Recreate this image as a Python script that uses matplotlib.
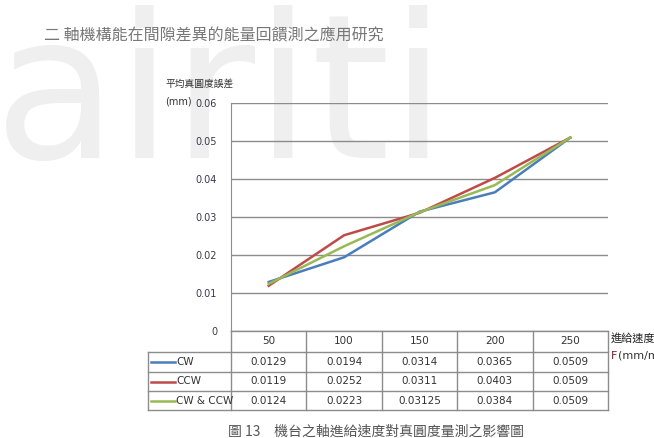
import matplotlib
matplotlib.use("Agg")
import matplotlib.pyplot as plt

plt.rcParams['font.family'] = ['Noto Sans CJK TC', 'DejaVu Sans']

# data
speeds = ['50', '100', '150', '200', '250']
series_names = ['CW', 'CCW', 'CW & CCW']
cw = [0.0129, 0.0194, 0.0314, 0.0365, 0.0509]
ccw = [0.0119, 0.0252, 0.0311, 0.0403, 0.0509]
cw_ccw = [0.0124, 0.0223, 0.03125, 0.0384, 0.0509]
cell_text = [['0.0129', '0.0194', '0.0314', '0.0365', '0.0509'],
             ['0.0119', '0.0252', '0.0311', '0.0403', '0.0509'],
             ['0.0124', '0.0223', '0.03125', '0.0384', '0.0509']]
yticks = [0, 0.01, 0.02, 0.03, 0.04, 0.05, 0.06]
colors = ['#4A7EBB', '#BE4B48', '#98B954']

W, H = 654, 438
fig = plt.figure(figsize=(W / 100, H / 100), dpi=100)

# plot area in pixels
L, R, T, B = 231, 608, 103, 331
ax = fig.add_axes([L / W, 1 - B / H, (R - L) / W, (B - T) / H])
ax.patch.set_alpha(0)

xs = range(len(speeds))
for vals, c in zip([cw, ccw, cw_ccw], colors):
    ax.plot(xs, vals, color=c, lw=1.8, zorder=3)

ax.set_xlim(-0.5, len(speeds) - 0.5)
ax.set_ylim(0, 0.06)
ax.set_yticks(yticks)
ax.set_yticklabels([f'{v:g}' if v else '0' for v in yticks], fontsize=7, color='#3a3a4a',
                   family=['DejaVu Sans'])
ax.tick_params(axis='y', length=0, pad=10)
ax.set_xticks([])
ax.grid(axis='y', color='#8c8c8c', lw=1)
for s in ['right', 'bottom', 'top']:
    ax.spines[s].set_visible(False)
ax.spines['left'].set_color('#8c8c8c')

# overlay in pixel coords for the table and texts
ov = fig.add_axes([0, 0, 1, 1], zorder=5)
ov.set_xlim(0, W)
ov.set_ylim(H, 0)
ov.axis('off')
ov.patch.set_alpha(0)

gray = '#8c8c8c'
rows_y = [331, 352, 372, 391, 410]
col_w = (R - L) / len(speeds)
leg_x = 148
ov.plot([L, R], [rows_y[0]] * 2, color=gray, lw=1)
for y in rows_y[1:]:
    ov.plot([leg_x, R], [y, y], color=gray, lw=1)
for i in range(len(speeds) + 1):
    ov.plot([L + i * col_w] * 2, [rows_y[0], rows_y[-1]], color=gray, lw=1)
ov.plot([leg_x, leg_x], [rows_y[1], rows_y[-1]], color=gray, lw=1)

tkw = dict(ha='center', va='center', fontsize=7.5, color='#333333', family=['DejaVu Sans'])
for i, s in enumerate(speeds):
    ov.text(L + (i + 0.5) * col_w, (rows_y[0] + rows_y[1]) / 2, s, **tkw)
for r, (name, row, c) in enumerate(zip(series_names, cell_text, colors)):
    yc = (rows_y[r + 1] + rows_y[r + 2]) / 2
    ov.plot([151, 175], [yc, yc], color=c, lw=1.8)
    ov.text(176, yc, name, ha='left', va='center', fontsize=7.5, color='#333333',
            family=['DejaVu Sans'])
    for i, v in enumerate(row):
        ov.text(L + (i + 0.5) * col_w, yc, v, **tkw)

# axis titles
ov.text(166, 84, '平均真圓度誤差', fontsize=7, color='#333333', va='center', ha='left')
ov.text(165, 102, '(mm)', fontsize=7, color='#333333', va='center', ha='left',
        family=['DejaVu Sans'])
ov.text(611, 338, '進給速度', fontsize=8, color='#222222', va='center', ha='left')
ov.text(611, 356, 'F', fontsize=8, color='#7a1f2b', va='center', ha='left',
        family=['DejaVu Sans'])
ov.text(618, 356, '(mm/min)', fontsize=8, color='#333333', va='center', ha='left',
        family=['DejaVu Sans'])

# page header and caption
ov.text(44, 36, '二 軸機構能在間隙差異的能量回饋測之應用研究', fontsize=11.5, color='#777777',
        va='center', ha='left')
ov.text(228, 432, '圖 13　機台之軸進給速度對真圓度量測之影響圖', fontsize=10, color='#555555',
        va='center', ha='left')

# watermark
fig.text(-0.01, 1 - 158 / H, 'airiti', fontsize=145, color='#efefef', ha='left',
         va='baseline', zorder=-10, family=['DejaVu Sans'])

fig.savefig('out.png', dpi=100)
